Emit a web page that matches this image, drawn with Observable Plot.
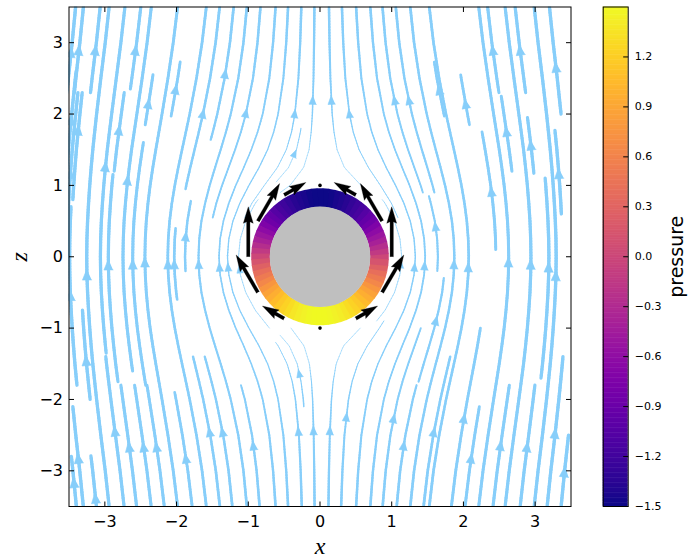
<!DOCTYPE html>
<html><head><meta charset="utf-8">
<script src="https://cdn.jsdelivr.net/npm/d3@7"></script>
<script src="https://cdn.jsdelivr.net/npm/@observablehq/plot@0.6"></script>
<style>
html,body{margin:0;padding:0;background:#fff;}
#wrap{position:relative;width:688px;height:558px;overflow:hidden;}
#wrap svg{position:absolute;top:0;}
</style></head><body><div id="wrap"></div>
<script>
// ---------- data ----------
// streamline families: x (distance from the axis) at each |z| level, one row per family,
// the family being labelled by its x at the top/bottom edge (|z| = 3.5)
const flowZ = [0, 0.25, 0.5, 0.75, 1, 1.25, 1.5, 1.75, 2, 2.5, 3, 3.5];
const familyEdge = [0, 0.1, 0.3, 0.6, 1.0, 1.5, 2.0, 2.5, 3.0, 3.5];
const familyX = [
  [1.000, 0.968, 0.866, 0.661, 0.000, 0.000, 0.000, 0.000, 0.000, 0.000, 0.000, 0.000],
  [1.063, 1.035, 0.947, 0.788, 0.534, 0.293, 0.195, 0.157, 0.136, 0.116, 0.106, 0.100],
  [1.193, 1.171, 1.104, 0.990, 0.836, 0.668, 0.537, 0.455, 0.404, 0.347, 0.318, 0.300],
  [1.395, 1.379, 1.332, 1.256, 1.157, 1.044, 0.937, 0.847, 0.777, 0.686, 0.634, 0.600],
  [1.679, 1.669, 1.638, 1.586, 1.521, 1.445, 1.366, 1.291, 1.224, 1.119, 1.047, 1.000],
  [2.055, 2.048, 2.028, 1.995, 1.952, 1.901, 1.846, 1.790, 1.735, 1.638, 1.559, 1.500],
  [2.453, 2.448, 2.434, 2.411, 2.381, 2.344, 2.303, 2.260, 2.217, 2.135, 2.061, 2.000],
  [2.871, 2.867, 2.857, 2.840, 2.819, 2.793, 2.764, 2.730, 2.695, 2.625, 2.558, 2.500],
  [3.305, 3.302, 3.293, 3.280, 3.264, 3.245, 3.223, 3.198, 3.172, 3.115, 3.054, 3.000],
  [3.754, 3.752, 3.747, 3.737, 3.724, 3.708, 3.691, 3.669, 3.646, 3.599, 3.547, 3.500]
];
// individual drawn streamlines: arrow position (x, z) and the z-extent of the drawn piece
const streamSeedX = [
  -3.47, -3.36, -3.13, -2.57, -1.32, -2.01, -2.39, -1.63, -1.03, -0.35, -0.10, -3.47, -3.37, -2.80, -2.99, -2.68, -3.48, -0.35, -1.87,
  -3.25, -2.95, -2.61, -2.44, -2.12, -2.03, -1.69, -1.40, -1.28, -1.12, -3.48,
  -3.26, -2.86, -3.37, -3.43, -3.13, -2.66, -2.46, -2.28, -1.87, -1.54, -1.36, -0.93, -0.09, -0.30, -0.29,
  0.16, 0.41, 1.04, 1.24, 1.66, 2.03, 2.41, 2.79, 3.29, 2.60, 2.94, 3.33, 2.39, 1.61,
  1.13, 1.32, 1.46, 1.87, 2.07, 2.63, 2.94, 3.19, 3.29,
  1.62, 0.14, 0.37, 1.03, 1.59, 2.01, 1.17, 2.11, 2.52, 2.89, 3.28, 3.41
];
const streamSeedZ = [
  2.87, 2.90, 2.90, 2.90, 2.57, 2.35, 2.15, 2.01, 2.02, 2.01, 2.20, 1.92, 1.78, 1.78, 1.27, 1.08, 1.17, 1.45, 0.29,
  -0.25, -0.11, -0.10, -0.07, -0.10, -0.10, -0.10, -0.14, -0.14, -0.17, -0.54,
  -1.45, -2.44, -2.82, -3.16, -3.38, -2.66, -2.66, -2.66, -2.82, -2.45, -2.45, -2.64, -2.43, -2.44, -1.63,
  2.20, 2.01, 2.20, 2.20, 2.34, 2.15, 2.90, 2.90, 2.66, 1.76, 1.57, 1.17, 0.92, 0.43,
  -0.10, -0.14, -0.12, -0.10, -0.14, -0.07, -0.10, -0.14, -0.26,
  -0.89, -2.43, -2.24, -2.26, -2.45, -2.26, -2.64, -2.82, -2.64, -2.66, -2.47, -3.01
];
const streamFromZ = [
  2.3, 2.3, 2.3, 2.35, 1.64, 1.97, 1.85, 0.95, 0.55, 0.55, 0.9, 1.2, 0.8, 1.2, -1.35, -1.6, 0.0, 1.05, -0.2,
  -3.5, -1.75, -1.8, -3.5, -3.5, -0.6, -3.5, -3.5, -3.5, -1.0, -1.8,
  -2.0, -3.5, -3.5, -3.5, -3.5, -3.5, -3.5, -3.5, -3.5, -3.5, -3.5, -3.5, -3.5, -3.5, -2.1,
  0.9, 0.55, 0.9, 0.9, 1.97, 1.85, 2.3, 2.3, 2.0, 1.2, 1.17, 0.6, 0.1, -0.2,
  -0.9, -3.5, -3.5, -3.5, -3.5, -3.5, -3.5, -1.7, -3.5,
  -1.75, -3.5, -3.5, -3.5, -3.5, -3.5, -3.5, -3.5, -3.5, -3.5, -3.5, -3.5
];
const streamToZ = [
  3.5, 3.5, 3.5, 3.5, 3.5, 2.73, 2.55, 3.5, 3.5, 3.5, 3.5, 2.6, 2.3, 2.3, 3.5, 3.5, 2.3, 1.8, 0.78,
  3.5, 1.15, 1.6, 3.5, 3.5, 0.4, 3.5, 3.5, 3.5, 0.8, 0.7,
  -0.75, -1.4, -2.1, -2.8, -2.79, -1.8, -1.8, -1.8, -1.9, -1.4, -1.4, -1.8, -1.0, -1.2, -1.1,
  3.5, 3.5, 3.5, 3.5, 2.73, 2.55, 3.5, 3.5, 3.5, 2.25, 1.95, 1.77, 1.75, 0.85,
  0.8, 3.5, 3.5, 3.5, 3.5, 3.5, 3.5, 1.1, 3.5,
  -0.3, -1.0, -0.9, -1.0, -1.4, -1.0, -1.8, -2.1, -1.8, -1.8, -1.4, -2.5
];
// surface pressure around the sphere (angle from +x, counter-clockwise, every 5 degrees)
const ringPressure = [
  0, -0.13, -0.26, -0.39, -0.51, -0.63, -0.75, -0.86, -0.96, -1.06, -1.15, -1.23, -1.30, -1.36, -1.41, -1.45, -1.48, -1.49, -1.5,
  -1.49, -1.48, -1.45, -1.41, -1.36, -1.30, -1.23, -1.15, -1.06, -0.96, -0.86, -0.75, -0.63, -0.51, -0.39, -0.26, -0.13,
  0, 0.13, 0.26, 0.39, 0.51, 0.63, 0.75, 0.86, 0.96, 1.06, 1.15, 1.23, 1.30, 1.36, 1.41, 1.45, 1.48, 1.49, 1.5,
  1.49, 1.48, 1.45, 1.41, 1.36, 1.30, 1.23, 1.15, 1.06, 0.96, 0.86, 0.75, 0.63, 0.51, 0.39, 0.26, 0.13
];
const ringInner = 0.70, ringOuter = 0.96;
// surface shear vectors (black arrows): tail position and components
const tractionX = [1, 0.866, 0.5, 0, -0.5, -0.866, -1, -0.866, -0.5, 0, 0.5, 0.866];
const tractionZ = [0, 0.5, 0.866, 1, 0.866, 0.5, 0, -0.5, -0.866, -1, -0.866, -0.5];
const tractionU = [0, -0.303, -0.303, 0, 0.303, 0.303, 0, -0.303, -0.303, 0, 0.303, 0.303];
const tractionW = [0.7, 0.525, 0.175, 0, 0.175, 0.525, 0.7, 0.525, 0.175, 0, 0.175, 0.525];
const xTicks = [-3, -2, -1, 0, 1, 2, 3];
const zTicks = [-3, -2, -1, 0, 1, 2, 3];
const cbTicks = [-1.5, -1.2, -0.9, -0.6, -0.3, 0, 0.3, 0.6, 0.9, 1.2];

// ---------- styling lookup: relative flow speed, used for line widths ----------
const speedR = [1, 1.1, 1.25, 1.5, 2, 2.5, 3, 3.5, 4, 5, 6];
const speedAxial = [0, 0.012, 0.056, 0.148, 0.3125, 0.432, 0.519, 0.583, 0.633, 0.704, 0.752];
const speedSide = [0, 0.130, 0.272, 0.426, 0.594, 0.684, 0.741, 0.780, 0.809, 0.848, 0.874];

// ---------- layout ----------
const W = 590, H = 558, mL = 68.5, mR = 19.5, mT = 6.5, mB = 52;
const ppx = (W - mL - mR) / 7, ppy = (H - mT - mB) / 7;
const LIGHT = "#87cefa";

function lin(xs, ys, v) {
  if (v <= xs[0]) return ys[0];
  if (v >= xs[xs.length - 1]) return ys[ys.length - 1];
  let j = 0; while (xs[j + 1] < v) j++;
  const t = (v - xs[j]) / (xs[j + 1] - xs[j]);
  return ys[j] + t * (ys[j + 1] - ys[j]);
}
function xOf(e, za) {
  let i = 0; while (i < familyEdge.length - 2 && familyEdge[i + 1] < e) i++;
  const t = (e - familyEdge[i]) / (familyEdge[i + 1] - familyEdge[i]);
  const a = lin(flowZ, familyX[i], za), b = lin(flowZ, familyX[i + 1], za);
  return a + t * (b - a);
}
function familyThrough(xa, za) {
  let lo = 0, hi = 4.5;
  for (let k = 0; k < 50; k++) { const m = (lo + hi) / 2; if (xOf(m, za) < xa) lo = m; else hi = m; }
  return (lo + hi) / 2;
}
function lwAt(x, z) {
  const r = Math.hypot(x, z); const c2 = r > 0 ? (z * z) / (r * r) : 0;
  const A = lin(speedR, speedAxial, r), B = lin(speedR, speedSide, r);
  return Math.max(0.6, 4.4 * Math.sqrt(c2 * A * A + (1 - c2) * B * B));
}

// ---------- build streamline geometry ----------
const streamLinks = [], streamHeads = [];
streamSeedX.forEach((xs, k) => {
  const zs = streamSeedZ[k], z0 = streamFromZ[k], z1 = streamToZ[k];
  const side = Math.sign(xs);
  const e = familyThrough(Math.abs(xs), Math.abs(zs));
  const X = z => side * xOf(e, Math.abs(z));
  const n = Math.max(2, Math.ceil((z1 - z0) / 0.04));
  let prev = [X(z0), z0];
  for (let i = 1; i <= n; i++) {
    const z = z0 + (z1 - z0) * i / n, p = [X(z), z];
    streamLinks.push({x1: prev[0], y1: prev[1], x2: p[0], y2: p[1], w: lwAt((prev[0] + p[0]) / 2, (prev[1] + p[1]) / 2)});
    prev = p;
  }
  // arrow head at the seed
  const cx = X(zs), cz = zs, h = 0.02;
  const dx = (X(zs + h) - X(zs - h)) * ppx, dz = 2 * h * ppy;
  const len = Math.hypot(dx, dz); const u = dx / len, v = dz / len;
  const lw = lwAt(cx, cz), L = 7.5 + 1.0 * lw, hw = 2.8 + 0.55 * lw;
  const pt = (s, t) => ({id: k, x: cx + (s * u - t * v) / ppx, y: cz + (s * v + t * u) / ppy});
  streamHeads.push(pt(L / 2, 0), pt(-L / 2, hw), pt(-L / 2, -hw));
});

// ring segments
const ringSegs = ringPressure.map((p, i) => {
  const a = i * 5, r = (ringInner + ringOuter) / 2, d = 3.1;
  const a1 = (a - d) * Math.PI / 180, a2 = (a + d) * Math.PI / 180;
  return {x1: r * Math.cos(a1), y1: r * Math.sin(a1), x2: r * Math.cos(a2), y2: r * Math.sin(a2), p};
});
const ringPx = (ringOuter - ringInner) * ppx;

// quiver polygons
const quiverPolys = [], zeroVecs = [];
tractionX.forEach((tx, k) => {
  const tz = tractionZ[k], du = tractionU[k] * ppx, dw = tractionW[k] * ppy;
  const L = Math.hypot(du, dw);
  if (L < 1e-6) { zeroVecs.push({x: tx, y: tz}); return; }
  const u = du / L, v = dw / L, w = 3.3;
  const pt = (s, t) => ({id: k, x: tx + (s * u - t * v) / ppx, y: tz + (s * v + t * u) / ppy});
  [[0, -w / 2], [L - 4.5 * w, -w / 2], [L - 5 * w, -1.5 * w], [L, 0], [L - 5 * w, 1.5 * w], [L - 4.5 * w, w / 2], [0, w / 2]]
    .forEach(([s, t]) => quiverPolys.push(pt(s, t)));
});

// inward tick marks on all four sides
const tk = 5;
const tickSegs = [
  ...xTicks.map(t => ({x1: t, x2: t, y1: -3.5, y2: -3.5 + tk / ppy})),
  ...xTicks.map(t => ({x1: t, x2: t, y1: 3.5, y2: 3.5 - tk / ppy})),
  ...zTicks.map(t => ({x1: -3.5, x2: -3.5 + tk / ppx, y1: t, y2: t})),
  ...zTicks.map(t => ({x1: 3.5, x2: 3.5 - tk / ppx, y1: t, y2: t}))
];
const fmt = d3.format("d");
const colorOpts = {type: "linear", scheme: "plasma", domain: [-1.5, 1.5]};

const chart = Plot.plot({
  width: W, height: H, marginLeft: mL, marginRight: mR, marginTop: mT, marginBottom: mB,
  x: {domain: [-3.5, 3.5], axis: null},
  y: {domain: [-3.5, 3.5], axis: null},
  color: colorOpts,
  style: {fontFamily: "DejaVu Sans", background: "white"},
  marks: [
    Plot.link(streamLinks, {x1: "x1", y1: "y1", x2: "x2", y2: "y2", stroke: LIGHT, strokeWidth: "w", strokeLinecap: "round", clip: true}),
    Plot.line(streamHeads, {x: "x", y: "y", z: "id", fill: LIGHT, stroke: LIGHT, strokeWidth: 0.6, clip: true}),
    Plot.link(ringSegs, {x1: "x1", y1: "y1", x2: "x2", y2: "y2", stroke: "p", strokeWidth: ringPx, strokeLinecap: "butt"}),
    Plot.dot([{x: 0, y: 0}], {x: "x", y: "y", r: ringInner * ppx, fill: "#bfbfbf", stroke: "none"}),
    Plot.line(quiverPolys, {x: "x", y: "y", z: "id", fill: "black", stroke: "black", strokeWidth: 0.3}),
    Plot.dot(zeroVecs, {x: "x", y: "y", r: 1.8, fill: "black", stroke: "none"}),
    Plot.link(tickSegs, {x1: "x1", y1: "y1", x2: "x2", y2: "y2", stroke: "black", strokeWidth: 1}),
    Plot.frame({stroke: "black", strokeWidth: 1}),
    Plot.text(xTicks, {x: d => d, y: -3.5, dy: 15, text: d => fmt(d), fontSize: 16, fill: "black", lineAnchor: "middle"}),
    Plot.text(zTicks, {x: -3.5, y: d => d, dx: -6, textAnchor: "end", text: d => fmt(d), fontSize: 16, fill: "black", lineAnchor: "middle"}),
    Plot.text(["x"], {frameAnchor: "bottom", dy: 40, fontSize: 24, fontStyle: "italic", fontFamily: "Liberation Serif", fill: "black", textAnchor: "middle", lineAnchor: "middle"}),
    Plot.text(["z"], {frameAnchor: "left", dx: -50, rotate: -90, fontSize: 24, fontStyle: "italic", fontFamily: "Liberation Serif", fill: "black", textAnchor: "middle", lineAnchor: "middle"})
  ]
});
chart.style.left = "0px";

// ---------- colour bar ----------
const cbW = 98, cbL = 12.7, cbR = 60.3;
const cbSlices = d3.range(-1.5, 1.5, 0.01).map(v => ({y1: v, y2: Math.min(1.5, v + 0.013), v: v + 0.005}));
const cbTickSegs = cbTicks.map(t => ({x1: 1, x2: 1 - 5 / (cbW - cbL - cbR), y1: t, y2: t}));
const bar = Plot.plot({
  width: cbW, height: H, marginLeft: cbL, marginRight: cbR, marginTop: mT, marginBottom: mB,
  x: {domain: [0, 1], axis: null},
  y: {domain: [-1.5, 1.5], axis: null},
  color: colorOpts,
  style: {fontFamily: "DejaVu Sans", background: "white"},
  marks: [
    Plot.rect(cbSlices, {x1: 0, x2: 1, y1: "y1", y2: "y2", fill: "v"}),
    Plot.frame({stroke: "black", strokeWidth: 1}),
    Plot.link(cbTickSegs, {x1: "x1", y1: "y1", x2: "x2", y2: "y2", stroke: "black", strokeWidth: 1}),
    Plot.text(cbTicks, {x: 1, y: d => d, dx: 6.5, textAnchor: "start", text: d => d3.format(".1f")(d), fontSize: 11, fill: "black", lineAnchor: "middle"}),
    Plot.text(["pressure"], {frameAnchor: "right", dx: 49, rotate: -90, fontSize: 19, fill: "black", textAnchor: "middle", lineAnchor: "middle"})
  ]
});
bar.style.left = "590px";

const wrap = document.getElementById("wrap");
wrap.appendChild(chart);
wrap.appendChild(bar);
</script></body></html>
